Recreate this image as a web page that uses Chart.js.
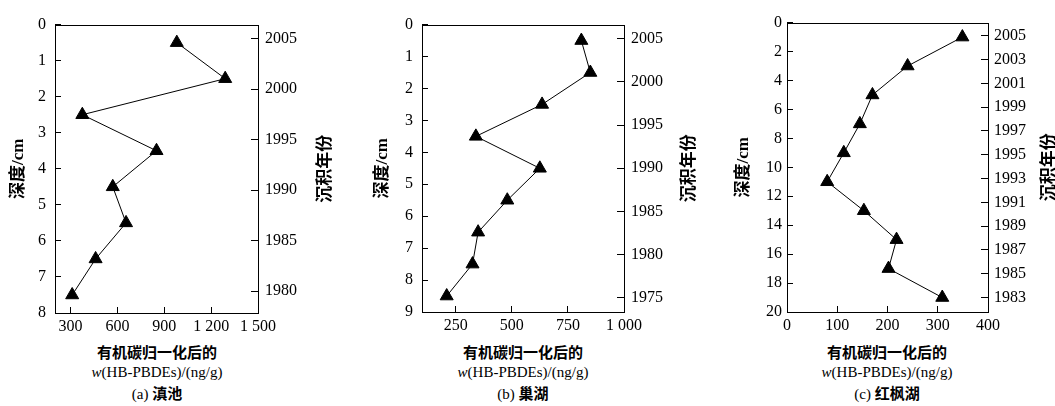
<!DOCTYPE html>
<html>
<head>
<meta charset="utf-8">
<script src="https://cdn.jsdelivr.net/npm/chart.js@4.4.0/dist/chart.umd.min.js"></script>
<style>
  body { margin:0; width:1055px; height:406px; overflow:hidden; background:#fff; position:relative; }
  canvas { position:absolute; top:0; }
  .cap { position:absolute; width:260px; text-align:center; color:#000; white-space:nowrap; }
  .l1 { font-family:"Noto Sans CJK SC"; font-weight:bold; font-size:15px; line-height:20px; }
  .l2 { font-family:"Liberation Serif"; font-size:15px; line-height:20px; }
  .l3 { font-family:"Liberation Serif","Noto Sans CJK SC"; font-size:15px; line-height:20px; }
  .l3 b { font-family:"Noto Sans CJK SC"; }
</style>
</head>
<body>
<canvas id="chartA" width="336" height="340" style="left:0px"></canvas>
<canvas id="chartB" width="330" height="340" style="left:370px"></canvas>
<canvas id="chartC" width="330" height="340" style="left:730px"></canvas>

<div class="cap l1" style="left:27px;top:342px">有机碳归一化后的</div>
<div class="cap l2" style="left:27px;top:362px"><i>w</i>(HB-PBDEs)/(ng/g)</div>
<div class="cap l3" style="left:27px;top:383px">(a) <b>滇池</b></div>

<div class="cap l1" style="left:393px;top:342px">有机碳归一化后的</div>
<div class="cap l2" style="left:393px;top:362px"><i>w</i>(HB-PBDEs)/(ng/g)</div>
<div class="cap l3" style="left:393px;top:383px">(b) <b>巢湖</b></div>

<div class="cap l1" style="left:757px;top:342px">有机碳归一化后的</div>
<div class="cap l2" style="left:757px;top:362px"><i>w</i>(HB-PBDEs)/(ng/g)</div>
<div class="cap l3" style="left:757px;top:383px">(c) <b>红枫湖</b></div>

<script>
// (a) 滇池
const dianchiDepth = [0.5, 1.5, 2.5, 3.5, 4.5, 5.5, 6.5, 7.5];
const dianchiConc = [980, 1290, 375, 850, 570, 655, 460, 310];
const dianchiXTicks = [300, 600, 900, 1200, 1500];
const dianchiDepthTicks = [0, 1, 2, 3, 4, 5, 6, 7, 8];
const dianchiYears = [1980, 1985, 1990, 1995, 2000, 2005];

// (b) 巢湖
const chaohuDepth = [0.5, 1.5, 2.5, 3.5, 4.5, 5.5, 6.5, 7.5, 8.5];
const chaohuConc = [810, 850, 635, 340, 625, 480, 350, 325, 210];
const chaohuXTicks = [250, 500, 750, 1000];
const chaohuDepthTicks = [0, 1, 2, 3, 4, 5, 6, 7, 8, 9];
const chaohuYears = [1975, 1980, 1985, 1990, 1995, 2000, 2005];

// (c) 红枫湖
const hongfengDepth = [1, 3, 5, 7, 9, 11, 13, 15, 17, 19];
const hongfengConc = [349, 240, 170, 145, 113, 80, 153, 218, 202, 309];
const hongfengXTicks = [0, 100, 200, 300, 400];
const hongfengDepthTicks = [0, 2, 4, 6, 8, 10, 12, 14, 16, 18, 20];
const hongfengYears = [1983, 1985, 1987, 1989, 1991, 1993, 1995, 1997, 1999, 2001, 2003, 2005];

const serif = '"Liberation Serif", "Times New Roman", serif';
const titleFont = '"Liberation Serif", "Noto Sans CJK SC", serif';
Chart.defaults.font.family = serif;
Chart.defaults.color = '#000';

// box round the plot area + right axis title (reads bottom to top like the left one)
const framePlugin = {
  id: 'frame',
  afterDraw(chart) {
    const ctx = chart.ctx, a = chart.chartArea;
    ctx.save();
    ctx.strokeStyle = '#000';
    ctx.lineWidth = 1;
    ctx.strokeRect(Math.round(a.left) + 0.5, Math.round(a.top) + 0.5,
      Math.round(a.right - a.left), Math.round(a.bottom - a.top));
    const s = chart.scales.y2;
    ctx.translate(s.right - 10, (a.top + a.bottom) / 2);
    ctx.rotate(-Math.PI / 2);
    ctx.font = 'bold 17px ' + titleFont;
    ctx.fillStyle = '#000';
    ctx.textAlign = 'center';
    ctx.textBaseline = 'middle';
    ctx.fillText('沉积年份', 0, 0);
    ctx.restore();
  }
};

function fmtThousand(v) {
  return v >= 1000 ? String(v).replace(/(\d)(\d{3})$/, '$1 $2') : String(v);
}

function setTicks(list) {
  return (axis) => { axis.ticks = list.map(v => ({value: v})); };
}

function makeChart(id, depth, conc, ax, g) {
  const pts = depth.map((d, i) => ({x: conc[i], y: d}));
  const tickGrid = {display: true, drawOnChartArea: false, drawTicks: true, tickLength: -6, color: '#000'};
  return new Chart(document.getElementById(id), {
    type: 'scatter',
    data: {
      datasets: [{
        data: pts,
        showLine: true,
        borderColor: '#000',
        borderWidth: 1,
        backgroundColor: '#000',
        pointStyle: 'triangle',
        pointRadius: 7.5,
        pointBorderWidth: 1,
        clip: false
      }]
    },
    options: {
      responsive: false,
      animation: false,
      devicePixelRatio: 1,
      layout: {autoPadding: false, padding: {left: g.padLeft, right: 0, top: 19, bottom: 0}},
      plugins: {legend: {display: false}, tooltip: {enabled: false}},
      scales: {
        x: {
          type: 'linear', position: 'bottom', min: ax.xMin, max: ax.xMax,
          afterBuildTicks: setTicks(ax.xTicks),
          afterFit: (s) => { s.height = g.hB; },
          grid: tickGrid, border: {display: false},
          ticks: {padding: 10, font: {size: 16}, maxRotation: 0, callback: fmtThousand}
        },
        y: {
          type: 'linear', position: 'left', reverse: true, min: 0, max: ax.dMax,
          afterBuildTicks: setTicks(ax.depthTicks),
          afterFit: (s) => { s.width = g.wL; },
          grid: tickGrid, border: {display: false},
          ticks: {padding: g.lblPadL, font: {size: 16}},
          title: {display: true, text: '深度/cm', padding: 0, font: {size: 17, weight: 'bold', family: titleFont}}
        },
        y2: {
          type: 'linear', position: 'right', min: ax.yearMin, max: ax.yearMax,
          afterBuildTicks: setTicks(ax.years),
          afterFit: (s) => { s.width = g.wR; },
          grid: Object.assign({}, tickGrid, {tickLength: -7}), border: {display: false},
          ticks: {padding: g.lblPadR, font: {size: 16}, callback: (v) => String(v)}
        }
      }
    },
    plugins: [framePlugin]
  });
}

makeChart('chartA', dianchiDepth, dianchiConc,
  {xMin: 200, xMax: 1500, xTicks: dianchiXTicks, dMax: 8, depthTicks: dianchiDepthTicks,
   yearMin: 1977.83, yearMax: 2006.39, years: dianchiYears},
  {padLeft: 8, wL: 47, wR: 78, hB: 27, lblPadL: 15, lblPadR: 14});

makeChart('chartB', chaohuDepth, chaohuConc,
  {xMin: 100, xMax: 1000, xTicks: chaohuXTicks, dMax: 9, depthTicks: chaohuDepthTicks,
   yearMin: 1973.34, yearMax: 2006.63, years: chaohuYears},
  {padLeft: 2, wL: 50, wR: 76, hB: 28, lblPadL: 15, lblPadR: 14});

makeChart('chartC', hongfengDepth, hongfengConc,
  {xMin: 0, xMax: 400, xTicks: hongfengXTicks, dMax: 20, depthTicks: hongfengDepthTicks,
   yearMin: 1981.79, yearMax: 2006.1, years: hongfengYears},
  {padLeft: 3, wL: 54, wR: 72, hB: 28, lblPadL: 11, lblPadR: 13});
</script>
</body>
</html>
